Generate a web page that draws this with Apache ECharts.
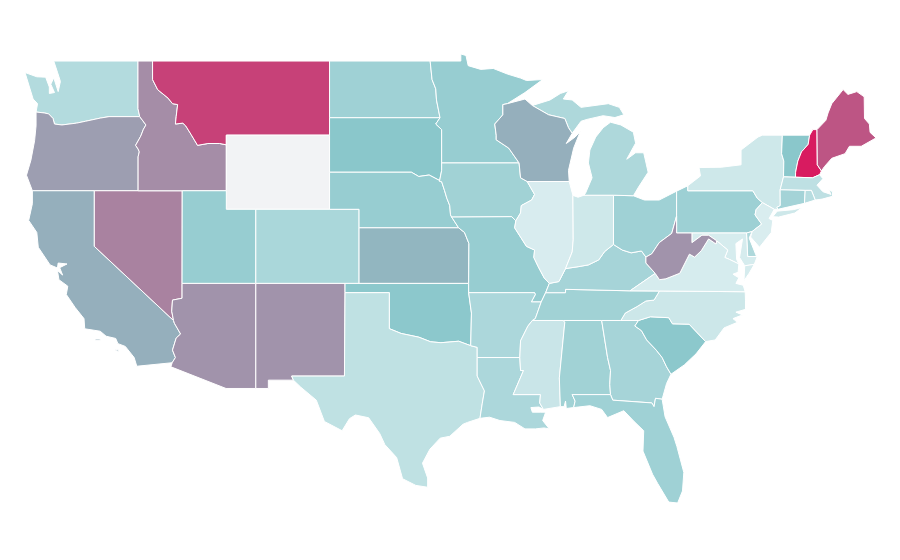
<!DOCTYPE html>
<html>
<head>
<meta charset="utf-8">
<title>US states</title>
<script src="https://cdn.jsdelivr.net/npm/echarts@6/dist/echarts.min.js"></script>
<style>
html, body { margin: 0; background: #fff; }
#chart { width: 900px; height: 560px; }
</style>
</head>
<body>
<div id="chart"></div>
<script>
// values, 0-100 on the colour scale. Wyoming has no data
const stateNames = ['Alabama','Arizona','Arkansas','California','Colorado','Connecticut','Delaware','Florida','Georgia','Idaho','Illinois','Indiana','Iowa','Kansas','Kentucky','Louisiana','Maine','Maryland','Massachusetts','Michigan','Minnesota','Mississippi','Missouri','Montana','Nebraska','Nevada','New Hampshire','New Jersey','New Mexico','New York','North Carolina','North Dakota','Ohio','Oklahoma','Oregon','Pennsylvania','Rhode Island','South Carolina','South Dakota','Tennessee','Texas','Utah','Vermont','Virginia','Washington','West Virginia','Wisconsin','Wyoming'];
const stateValues = [36,65,29,57,30,34,28,37,33,67,2,8,36,55,33,29,83,3,18,28,42,11,42,89,42,70,100,1,65,8,9,37,37,49,62,38,22,49,50,36,17,42,50,3,25,65,57,null];

// scale ends and colours
const scaleMin = 0;
const scaleMax = 100;
const scaleColors = ['#dbeef0', '#8ac7cb', '#d81b60'];

// state outlines, lon/lat rings
const stateRings = {
  'Washington': [[[-122.75,49],[-117.04,49],[-117.04,46.43],[-116.92,46],[-119,46],[-119.6,45.92],[-120.6,45.75],[-121.2,45.65],[-122.2,45.55],[-122.7,45.6],[-122.8,45.9],[-123.1,46.15],[-123.4,46.2],[-123.95,46.25],[-123.85,46.7],[-124.15,46.95],[-124.4,47.6],[-124.7,48.38],[-123.9,48.15],[-123.3,48.13],[-123.05,47.6],[-123.05,47.25],[-122.7,47.3],[-122.95,47.75],[-122.75,48.1],[-122.45,47.35],[-122.3,47.9],[-122.5,48.4],[-122.75,49]]],
  'Oregon': [[[-123.95,46.25],[-123.4,46.2],[-123.1,46.15],[-122.8,45.9],[-122.7,45.6],[-122.2,45.55],[-121.2,45.65],[-120.6,45.75],[-119.6,45.92],[-119,46],[-116.92,46],[-116.5,45.55],[-116.67,45.32],[-116.85,44.95],[-117.2,44.45],[-117.03,44.25],[-116.95,44.1],[-117.03,43.83],[-117.03,42],[-120,42],[-124.2,42],[-124.6,42.84],[-124.3,43.65],[-124.05,44.7],[-123.95,45.5]]],
  'California': [[[-124.2,42],[-120,42],[-120,39],[-114.63,35],[-114.57,34.85],[-114.15,34.27],[-114.45,34.05],[-114.7,33.4],[-114.5,33],[-114.72,32.72],[-117.12,32.53],[-117.3,33],[-117.9,33.6],[-118.4,33.75],[-118.55,34.03],[-119.2,34.15],[-119.6,34.42],[-120.65,34.55],[-120.7,35.1],[-121.3,35.7],[-121.9,36.4],[-121.8,36.85],[-122.4,37.2],[-122.5,37.7],[-122.15,37.45],[-122.35,37.85],[-121.85,38.05],[-122.45,38.1],[-122.5,37.83],[-123,38],[-123.8,38.95],[-123.9,39.75],[-124.45,40.4],[-124.2,41.3]],[[-119.95,34],[-119.6,34],[-119.6,33.93],[-119.95,33.93]],[[-118.55,33.45],[-118.35,33.4],[-118.35,33.33],[-118.55,33.38]]],
  'Nevada': [[[-120,42],[-117.03,42],[-114.04,42],[-114.05,37],[-114.05,36.2],[-114.7,36.1],[-114.75,35.5],[-114.63,35],[-120,39]]],
  'Idaho': [[[-117.04,49],[-116.05,49],[-116.05,48],[-115.7,47.45],[-115,47],[-114.7,46.7],[-114.35,46.65],[-114.45,46],[-114.5,45.6],[-114,45.65],[-113.8,45.5],[-113.45,45.05],[-113,44.45],[-112.3,44.55],[-111.5,44.55],[-111.05,44.48],[-111.05,42],[-114.04,42],[-117.03,42],[-117.03,43.83],[-116.95,44.1],[-117.03,44.25],[-117.2,44.45],[-116.85,44.95],[-116.67,45.32],[-116.5,45.55],[-116.92,46],[-117.04,46.43]]],
  'Montana': [[[-116.05,49],[-104.05,49],[-104.05,45.94],[-104.05,45],[-111.05,45],[-111.05,44.48],[-111.5,44.55],[-112.3,44.55],[-113,44.45],[-113.45,45.05],[-113.8,45.5],[-114,45.65],[-114.5,45.6],[-114.45,46],[-114.35,46.65],[-114.7,46.7],[-115,47],[-115.7,47.45],[-116.05,48]]],
  'Wyoming': [[[-111.05,45],[-104.05,45],[-104.05,43],[-104.05,41],[-109.05,41],[-111.05,41],[-111.05,42],[-111.05,44.48]]],
  'Utah': [[[-114.04,42],[-111.05,42],[-111.05,41],[-109.05,41],[-109.05,37],[-114.05,37]]],
  'Colorado': [[[-109.05,41],[-104.05,41],[-102.05,41],[-102.05,40],[-102.05,37],[-103,37],[-109.05,37]]],
  'Arizona': [[[-114.05,37],[-109.05,37],[-109.05,31.33],[-111.07,31.33],[-114.81,32.5],[-114.72,32.72],[-114.5,33],[-114.7,33.4],[-114.45,34.05],[-114.15,34.27],[-114.57,34.85],[-114.63,35],[-114.75,35.5],[-114.7,36.1],[-114.05,36.2]]],
  'New Mexico': [[[-109.05,37],[-103,37],[-103,36.5],[-103.04,32],[-106.62,32],[-106.5,31.78],[-108.2,31.78],[-108.2,31.33],[-109.05,31.33]]],
  'North Dakota': [[[-104.05,49],[-97.23,49],[-97.1,48],[-96.85,47.5],[-96.8,46.9],[-96.56,45.94],[-104.05,45.94]]],
  'South Dakota': [[[-104.05,45.94],[-96.56,45.94],[-96.85,45.6],[-96.45,45.3],[-96.45,43.5],[-96.45,43.1],[-96.6,42.5],[-96.45,42.49],[-96.7,42.6],[-97.3,42.85],[-98,42.77],[-98.5,43],[-104.05,43],[-104.05,45]]],
  'Nebraska': [[[-104.05,43],[-98.5,43],[-98,42.77],[-97.3,42.85],[-96.7,42.6],[-96.45,42.49],[-96.25,42],[-96.1,41.6],[-95.9,41.2],[-95.85,40.7],[-95.77,40.58],[-95.3,40],[-102.05,40],[-102.05,41],[-104.05,41]]],
  'Kansas': [[[-102.05,40],[-95.3,40],[-94.9,39.75],[-94.6,39.15],[-94.62,37],[-102.05,37]]],
  'Oklahoma': [[[-103,37],[-102.05,37],[-94.62,37],[-94.62,36.5],[-94.43,35.4],[-94.48,33.64],[-95.3,33.88],[-96.5,33.8],[-97.2,33.85],[-98,34.1],[-99.2,34.3],[-100,34.56],[-100,36.5],[-103,36.5]]],
  'Texas': [[[-103,36.5],[-100,36.5],[-100,34.56],[-99.2,34.3],[-98,34.1],[-97.2,33.85],[-96.5,33.8],[-95.3,33.88],[-94.48,33.64],[-94.04,33.55],[-94.04,33],[-94.04,32],[-93.55,31.2],[-93.7,30.5],[-93.85,29.72],[-94.7,29.5],[-95,29.4],[-95.9,28.75],[-96.55,28.65],[-97.25,28.05],[-97.75,27.3],[-97.4,26.5],[-97.4,26],[-98.2,26.1],[-99.1,26.46],[-99.5,27.6],[-100.3,28.3],[-100.65,28.9],[-101.4,29.75],[-102.3,29.9],[-102.7,29.7],[-103.2,29.05],[-104.4,29.55],[-104.95,30.7],[-106,31.4],[-106.5,31.78],[-106.62,32],[-103.04,32]]],
  'Minnesota': [[[-97.23,49],[-95.15,49],[-95.15,49.38],[-94.8,49.3],[-94.65,48.75],[-93.8,48.55],[-92.95,48.6],[-92,48.3],[-91.1,48.08],[-90.7,47.95],[-89.6,48],[-90.8,47.3],[-92,46.7],[-92.3,46.65],[-92.3,46.1],[-92.85,45.6],[-92.75,45],[-92.75,44.75],[-91.9,44.3],[-91.2,43.5],[-96.45,43.5],[-96.45,45.3],[-96.85,45.6],[-96.56,45.94],[-96.8,46.9],[-96.85,47.5],[-97.1,48]]],
  'Iowa': [[[-96.45,43.5],[-91.2,43.5],[-91.1,42.7],[-90.65,42.5],[-90.15,41.8],[-90.35,41.5],[-91.05,41.2],[-91.1,40.8],[-91.42,40.38],[-91.7,40.6],[-95.77,40.58],[-95.85,40.7],[-95.9,41.2],[-96.1,41.6],[-96.25,42],[-96.45,42.49],[-96.6,42.5],[-96.45,43.1]]],
  'Missouri': [[[-95.77,40.58],[-91.7,40.6],[-91.42,40.38],[-91.5,40],[-91.1,39.5],[-90.7,39],[-90.15,38.8],[-90.2,38.4],[-89.9,37.9],[-89.5,37.3],[-89.15,37],[-89.4,36.5],[-89.7,36],[-90.37,36],[-90.1,36.4],[-90.15,36.5],[-94.62,36.5],[-94.62,37],[-94.6,39.15],[-94.9,39.75],[-95.3,40]]],
  'Arkansas': [[[-94.62,36.5],[-90.15,36.5],[-90.1,36.4],[-90.37,36],[-89.7,36],[-90.1,35.1],[-90.3,35],[-90.6,34.7],[-91.1,33.9],[-91.15,33],[-94.04,33],[-94.04,33.55],[-94.48,33.64],[-94.43,35.4]]],
  'Louisiana': [[[-94.04,33],[-91.15,33],[-91.1,32.3],[-90.9,32.3],[-91.6,31],[-89.75,31],[-89.8,30.55],[-89.55,30.2],[-89.85,30.33],[-90.4,30.3],[-90.3,30.05],[-89.75,30.05],[-89.4,30.05],[-89.6,29.6],[-89.15,29.15],[-89.5,29.2],[-90.1,29.15],[-90.8,29.15],[-91.5,29.5],[-92.5,29.6],[-93.2,29.78],[-93.85,29.72],[-93.7,30.5],[-93.55,31.2],[-94.04,32]]],
  'Mississippi': [[[-91.15,33],[-91.1,33.9],[-90.6,34.7],[-90.3,35],[-88.2,35],[-88.1,34.9],[-88.47,31.9],[-88.4,30.35],[-89.55,30.2],[-89.8,30.55],[-89.75,31],[-91.6,31],[-90.9,32.3],[-91.1,32.3]]],
  'Alabama': [[[-88.2,35],[-85.6,35],[-85.2,33],[-85,32.3],[-85.05,31.55],[-85,31],[-87.6,31],[-87.4,30.65],[-87.5,30.3],[-88,30.25],[-88.05,30.65],[-88.15,30.35],[-88.4,30.35],[-88.47,31.9],[-88.1,34.9]]],
  'Georgia': [[[-85.6,35],[-84.3,35],[-83.1,35],[-83.35,34.7],[-82.9,34.45],[-82.55,33.95],[-81.9,33.4],[-81.5,33],[-81.2,32.5],[-80.9,32.1],[-81.2,31.6],[-81.5,30.75],[-81.95,30.8],[-82.05,30.35],[-82.2,30.55],[-84.85,30.7],[-85,31],[-85.05,31.55],[-85,32.3],[-85.2,33]]],
  'Florida': [[[-87.6,31],[-85,31],[-84.85,30.7],[-82.2,30.55],[-82.05,30.35],[-81.95,30.8],[-81.5,30.75],[-81.3,29.8],[-80.7,28.7],[-80.5,28.2],[-80.03,26.8],[-80.12,25.8],[-80.45,25.15],[-81.05,25.2],[-81.8,26.2],[-82.15,26.7],[-82.8,27.95],[-82.75,29.05],[-83.4,29.55],[-84.1,30.13],[-85.2,29.76],[-85.6,30.2],[-86.4,30.4],[-87.5,30.3],[-87.4,30.65]]],
  'South Carolina': [[[-83.35,34.7],[-83.1,35],[-82.3,35.2],[-81.05,35.15],[-80.8,34.82],[-79.67,34.8],[-78.55,33.86],[-79.2,33.2],[-80,32.6],[-80.9,32.1],[-81.2,32.5],[-81.5,33],[-81.9,33.4],[-82.55,33.95],[-82.9,34.45]]],
  'North Carolina': [[[-84.3,35],[-83.1,35],[-82.3,35.2],[-81.05,35.15],[-80.8,34.82],[-79.67,34.8],[-78.55,33.86],[-77.9,33.95],[-77.3,34.6],[-76.4,34.9],[-76.7,35.1],[-76.05,35.3],[-76.5,35.45],[-75.85,35.6],[-75.85,36.1],[-75.87,36.55],[-81.68,36.59],[-82.05,36.1],[-82.6,36.05],[-83.2,35.75],[-84,35.4]]],
  'Tennessee': [[[-90.3,35],[-90.1,35.1],[-89.7,36],[-89.4,36.5],[-88.05,36.5],[-88.05,36.68],[-83.68,36.6],[-81.68,36.59],[-82.05,36.1],[-82.6,36.05],[-83.2,35.75],[-84,35.4],[-84.3,35],[-85.6,35],[-88.2,35]]],
  'Kentucky': [[[-89.4,36.5],[-89.15,37],[-88.5,37.1],[-88.05,37.8],[-87.2,37.9],[-86.5,38],[-85.8,38.27],[-85.4,38.72],[-84.8,39.1],[-84.2,38.8],[-83.6,38.65],[-82.9,38.75],[-82.6,38.42],[-82.6,38.1],[-81.97,37.54],[-83.68,36.6],[-88.05,36.68],[-88.05,36.5]]],
  'Illinois': [[[-91.42,40.38],[-91.1,40.8],[-91.05,41.2],[-90.35,41.5],[-90.15,41.8],[-90.65,42.5],[-87.8,42.5],[-87.55,41.75],[-87.53,39.35],[-87.6,38.7],[-88.05,37.8],[-88.5,37.1],[-89.15,37],[-89.5,37.3],[-89.9,37.9],[-90.2,38.4],[-90.15,38.8],[-90.7,39],[-91.1,39.5],[-91.5,40]]],
  'Indiana': [[[-87.55,41.75],[-87.2,41.65],[-86.8,41.76],[-84.8,41.76],[-84.8,39.1],[-85.4,38.72],[-85.8,38.27],[-86.5,38],[-87.2,37.9],[-88.05,37.8],[-87.6,38.7],[-87.53,39.35]]],
  'Ohio': [[[-84.8,41.76],[-83.45,41.73],[-82.7,41.5],[-81.7,41.5],[-80.52,41.98],[-80.52,40.64],[-80.85,39.7],[-81.7,39.2],[-82.2,38.6],[-82.6,38.42],[-82.9,38.75],[-83.6,38.65],[-84.2,38.8],[-84.8,39.1]]],
  'Michigan': [[[-86.8,41.76],[-84.8,41.76],[-83.45,41.73],[-83.1,42.2],[-82.45,43],[-82.75,44.05],[-83.3,44.05],[-83.9,43.7],[-83.3,44.57],[-83.45,45.16],[-84.3,45.55],[-85,45.7],[-85.5,45.4],[-86,44.9],[-86.4,44.2],[-86.5,43.5],[-86.25,42.7],[-86.7,41.86]],[[-90.3,46.6],[-89.1,46.9],[-88.4,47.25],[-87.85,47.4],[-88.2,46.95],[-87.6,46.9],[-87,46.5],[-85.15,46.7],[-84.4,46.5],[-84.1,46.1],[-84.7,45.95],[-85.5,46.05],[-86.6,45.85],[-87,45.75],[-87.6,45.1],[-87.85,45.4],[-88.1,45.9],[-89.2,46.1]]],
  'Wisconsin': [[[-92.3,46.65],[-92,46.7],[-90.8,46.95],[-90.3,46.6],[-89.2,46.1],[-88.1,45.9],[-87.85,45.4],[-87.6,45.1],[-88,44.55],[-87.4,44.9],[-87.05,45.2],[-87.5,44.3],[-87.85,43.1],[-87.8,42.5],[-90.65,42.5],[-91.1,42.7],[-91.2,43.5],[-91.9,44.3],[-92.75,44.75],[-92.75,45],[-92.85,45.6],[-92.3,46.1]]],
  'Pennsylvania': [[[-80.52,41.98],[-79.76,42.27],[-79.76,42],[-75.35,42],[-75.05,41.6],[-74.7,41.36],[-75.13,40.98],[-75.2,40.7],[-74.75,40.2],[-75.4,39.8],[-75.78,39.72],[-79.48,39.72],[-80.52,39.72],[-80.52,40.64]]],
  'New York': [[[-79.76,42.27],[-78.9,42.8],[-79,43.25],[-77.5,43.27],[-76.15,43.4],[-76.15,44.2],[-75,44.9],[-74.7,45],[-73.35,45],[-73.4,44],[-73.25,43.6],[-73.27,42.75],[-73.5,42.05],[-73.49,41.2],[-73.72,41.1],[-73.65,41],[-73.9,41],[-74.7,41.36],[-75.05,41.6],[-75.35,42],[-79.76,42]],[[-74,40.6],[-73.7,40.9],[-72.6,40.98],[-72,41.1],[-72.5,40.8],[-73.6,40.58]]],
  'New Jersey': [[[-74.7,41.36],[-73.9,41],[-74.25,40.5],[-74,40.4],[-74.1,39.75],[-74.9,38.95],[-75.5,39.5],[-75.4,39.8],[-74.75,40.2],[-75.2,40.7],[-75.13,40.98]]],
  'Delaware': [[[-75.78,39.72],[-75.4,39.8],[-75.6,39.45],[-75.1,38.45],[-75.7,38.45]]],
  'Maryland': [[[-79.48,39.72],[-75.78,39.72],[-75.7,38.45],[-75.05,38.45],[-75.25,38.03],[-75.9,37.95],[-76.25,38.4],[-76.05,39.4],[-76.5,39.15],[-76.45,38.3],[-76.3,38.05],[-76.95,38.3],[-77.25,38.4],[-77.05,38.8],[-77.5,39.1],[-77.8,39.3],[-78.35,39.6],[-78.8,39.6],[-79.48,39.2]]],
  'Virginia': [[[-83.68,36.6],[-81.68,36.59],[-75.87,36.55],[-76,36.9],[-76.5,37],[-76.3,37.3],[-76.7,37.5],[-76.35,37.6],[-76.3,38.05],[-76.95,38.3],[-77.25,38.4],[-77.05,38.8],[-77.5,39.1],[-77.8,39.3],[-77.85,39.13],[-78.35,39.4],[-78.85,38.76],[-79.3,38.42],[-79.65,38.58],[-80.3,37.55],[-81.25,37.25],[-81.68,37.2],[-81.97,37.54]],[[-75.25,38.03],[-75.9,37.95],[-75.95,37.15],[-75.6,37.55]]],
  'West Virginia': [[[-80.52,40.64],[-80.52,39.72],[-79.48,39.72],[-79.48,39.2],[-78.8,39.6],[-78.35,39.6],[-77.8,39.3],[-77.85,39.13],[-78.35,39.4],[-78.85,38.76],[-79.3,38.42],[-79.65,38.58],[-80.3,37.55],[-81.25,37.25],[-81.68,37.2],[-81.97,37.54],[-82.6,38.1],[-82.6,38.42],[-82.2,38.6],[-81.7,39.2],[-80.85,39.7]]],
  'Vermont': [[[-73.35,45],[-71.5,45],[-71.6,44.5],[-72.05,44.1],[-72.3,43.6],[-72.45,43],[-72.46,42.73],[-73.27,42.75],[-73.25,43.6],[-73.4,44]]],
  'New Hampshire': [[[-71.5,45],[-71.28,45.3],[-71,45.3],[-70.98,43.4],[-70.7,43.07],[-70.82,42.87],[-71.3,42.7],[-72.46,42.73],[-72.45,43],[-72.3,43.6],[-72.05,44.1],[-71.6,44.5]]],
  'Maine': [[[-71,45.3],[-70.4,45.8],[-70.25,46.2],[-70,46.7],[-69.23,47.46],[-68.9,47.2],[-68.3,47.35],[-67.8,47.07],[-67.78,45.9],[-67.45,45.6],[-67.4,45.15],[-67,44.85],[-68,44.4],[-68.8,44.4],[-69.1,44],[-70,43.75],[-70.5,43.3],[-70.7,43.07],[-70.98,43.4]]],
  'Massachusetts': [[[-73.5,42.05],[-73.27,42.75],[-72.46,42.73],[-71.3,42.7],[-70.82,42.87],[-70.6,42.65],[-71,42.3],[-70.6,41.95],[-70.05,41.8],[-70.2,42.05],[-69.95,41.95],[-69.95,41.7],[-70.65,41.55],[-71.12,41.5],[-71.38,42.02],[-71.8,42.02]]],
  'Connecticut': [[[-73.5,42.05],[-71.8,42.02],[-71.85,41.32],[-73.65,41],[-73.72,41.1],[-73.49,41.2]]],
  'Rhode Island': [[[-71.8,42.02],[-71.38,42.02],[-71.12,41.5],[-71.85,41.32]]]
};

function buildGeoJson() {
    return {
        type: 'FeatureCollection',
        features: Object.keys(stateRings).map(function (name) {
            return {
                type: 'Feature',
                properties: { name: name },
                geometry: { type: 'MultiPolygon', coordinates: stateRings[name].map(r => [r]) }
            };
        })
    };
}

echarts.registerMap('usa', buildGeoJson());

const chart = echarts.init(document.getElementById('chart'));
chart.setOption({
    animation: false,
    tooltip: { show: false },
    visualMap: {
        show: false,
        min: scaleMin,
        max: scaleMax,
        inRange: { color: scaleColors }
    },
    series: [{
        type: 'map',
        map: 'usa',
        roam: false,
        aspectScale: 0.796,
        left: 25,
        top: 54,
        width: 851,
        height: 449,
        label: { show: false },
        itemStyle: { areaColor: '#f2f3f5', borderColor: '#ffffff', borderWidth: 1 },
        emphasis: { disabled: true },
        select: { disabled: true },
        data: stateNames.map((name, i) => ({ name: name, value: stateValues[i] }))
    }]
});
</script>
</body>
</html>
